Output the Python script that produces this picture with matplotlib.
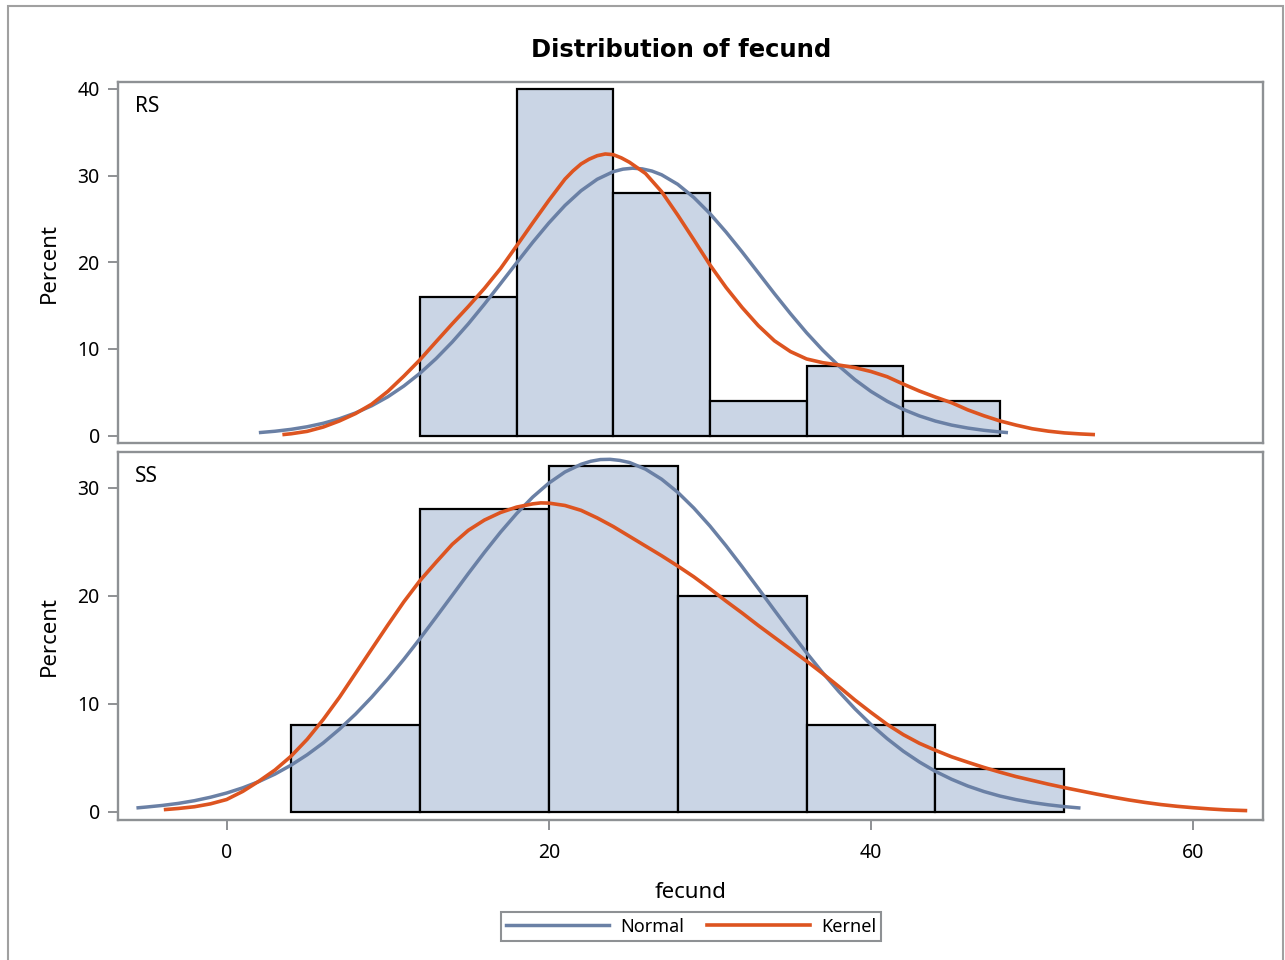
import numpy as np
import matplotlib
matplotlib.use("Agg")
import matplotlib.pyplot as plt
from matplotlib.patches import Rectangle
from matplotlib.lines import Line2D

plt.rcParams['font.family'] = ['Noto Sans', 'DejaVu Sans']

# ---------------- data ----------------
groups = ["RS", "SS"]
x_ticks = [0, 20, 40, 60]
rs_y_ticks = [0, 10, 20, 30, 40]
ss_y_ticks = [0, 10, 20, 30]

rs_bin_edges = [12, 18, 24, 30, 36, 42, 48]
rs_percent = [16, 40, 28, 4, 8, 4]
ss_bin_edges = [4, 12, 20, 28, 36, 44, 52]
ss_percent = [8, 28, 32, 20, 8, 4]

rs_normal_x = [2, 3, 4, 5, 6, 7, 8, 9, 10, 11, 12, 13, 14, 15, 16, 17, 18, 19, 20, 21,
               22, 23, 24, 24.6, 25.2, 25.8, 26.4, 27, 28, 29, 30, 31, 32, 33, 34, 35,
               36, 37, 38, 39, 40, 41, 42, 43, 44, 45, 46, 47, 48, 48.5]
rs_normal_y = [0.35, 0.51, 0.73, 1.03, 1.43, 1.95, 2.62, 3.45, 4.48, 5.73, 7.20, 8.89,
               10.80, 12.90, 15.17, 17.54, 19.94, 22.31, 24.54, 26.56, 28.26, 29.58,
               30.46, 30.75, 30.86, 30.78, 30.53, 30.10, 29.00, 27.48, 25.62, 23.49,
               21.19, 18.79, 16.39, 14.07, 11.87, 9.86, 8.05, 6.46, 5.10, 3.97, 3.03,
               2.28, 1.68, 1.22, 0.88, 0.62, 0.43, 0.35]

rs_kernel_x = [3.46, 4, 5, 6, 7, 8, 9, 10, 11, 12, 13, 14, 15, 16, 17, 18, 19, 20, 21,
               21.5, 22, 22.5, 23, 23.5, 24, 24.5, 25, 26, 27, 28, 29, 30, 31, 32, 33,
               34, 35, 36, 37, 38, 39, 40, 41, 42, 43, 44, 45, 46, 47, 48, 49, 50, 51,
               52, 53, 53.9]
rs_kernel_y = [0.12, 0.22, 0.50, 1.00, 1.70, 2.55, 3.63, 5.10, 6.87, 8.76, 10.84, 12.90,
               14.90, 16.99, 19.28, 21.90, 24.55, 27.15, 29.60, 30.55, 31.35, 31.90,
               32.30, 32.50, 32.42, 32.05, 31.55, 30.25, 28.15, 25.45, 22.60, 19.70,
               17.10, 14.78, 12.70, 10.95, 9.70, 8.85, 8.42, 8.15, 7.85, 7.40, 6.80,
               5.95, 5.15, 4.45, 3.80, 2.98, 2.30, 1.70, 1.22, 0.80, 0.52, 0.32, 0.20,
               0.12]

ss_normal_x = [-5.6, -5, -4, -3, -2, -1, 0, 1, 2, 3, 4, 5, 6, 7, 8, 9, 10, 11, 12, 13,
               14, 15, 16, 17, 18, 19, 20, 21, 22, 22.6, 23.2, 23.8, 24.4, 25, 26, 27,
               28, 29, 30, 31, 32, 33, 34, 35, 36, 37, 38, 39, 40, 41, 42, 43, 44, 45,
               46, 47, 48, 49, 50, 51, 52, 53]
ss_normal_y = [0.37, 0.45, 0.60, 0.79, 1.04, 1.36, 1.75, 2.23, 2.81, 3.50, 4.33, 5.29,
               6.39, 7.65, 9.05, 10.61, 12.31, 14.12, 16.03, 18.02, 20.03, 22.05, 24.01,
               25.88, 27.60, 29.13, 30.42, 31.45, 32.16, 32.44, 32.60, 32.62, 32.52,
               32.33, 31.71, 30.78, 29.57, 28.11, 26.45, 24.62, 22.68, 20.68, 18.66,
               16.66, 14.72, 12.87, 11.14, 9.54, 8.08, 6.78, 5.62, 4.62, 3.75, 3.02,
               2.40, 1.89, 1.47, 1.14, 0.87, 0.66, 0.49, 0.36]

ss_kernel_x = [-3.9, -3, -2, -1, 0, 1, 2, 3, 4, 5, 6, 7, 8, 9, 10, 11, 12, 13, 14, 15,
               16, 17, 18, 19, 19.5, 20, 21, 22, 23, 24, 25, 26, 27, 28, 29, 30, 31, 32,
               33, 34, 35, 36, 37, 38, 39, 40, 41, 42, 43, 44, 45, 46, 47, 48, 49, 50,
               51, 52, 53, 54, 55, 56, 57, 58, 59, 60, 61, 62, 63.35]
ss_kernel_y = [0.21, 0.32, 0.48, 0.75, 1.15, 1.90, 2.84, 3.88, 5.16, 6.72, 8.56, 10.60,
               12.83, 15.06, 17.28, 19.44, 21.40, 23.10, 24.75, 26.05, 27.00, 27.70,
               28.20, 28.50, 28.59, 28.57, 28.35, 27.90, 27.20, 26.40, 25.50, 24.60,
               23.70, 22.75, 21.75, 20.65, 19.50, 18.40, 17.25, 16.15, 15.05, 13.95,
               12.80, 11.60, 10.35, 9.20, 8.10, 7.15, 6.35, 5.70, 5.10, 4.60, 4.12,
               3.68, 3.27, 2.92, 2.57, 2.25, 1.95, 1.65, 1.37, 1.11, 0.88, 0.68, 0.52,
               0.39, 0.28, 0.19, 0.12]

# ---------------- styles ----------------
W, H = 1285, 960
bar_fill = '#CAD5E5'
normal_color = '#6A80A5'
kernel_color = '#DD5420'
spine_color = '#8E9194'

fig = plt.figure(figsize=(W / 100, H / 100), dpi=100)
fig.patch.set_facecolor('white')

left = 117.9 / W
width = (1262.7 - 117.9) / W
ax1 = fig.add_axes([left, 1 - 443.3 / H, width, (443.3 - 82.3) / H])
ax2 = fig.add_axes([left, 1 - 819.5 / H, width, (819.5 - 452.3) / H])

panels = [
    (ax1, groups[0], rs_bin_edges, rs_percent, rs_normal_x, rs_normal_y,
     rs_kernel_x, rs_kernel_y, rs_y_ticks, (-0.88, 40.77)),
    (ax2, groups[1], ss_bin_edges, ss_percent, ss_normal_x, ss_normal_y,
     ss_kernel_x, ss_kernel_y, ss_y_ticks, (-0.7, 33.27)),
]

for ax, name, edges, pct, nx, ny, kx, ky, yt, ylim in panels:
    edges = np.asarray(edges, dtype=float)
    ax.bar(edges[:-1], pct, width=np.diff(edges), align='edge', color=bar_fill,
           edgecolor='black', linewidth=1.6, zorder=2)
    ax.plot(nx, ny, color=normal_color, linewidth=2.5, solid_capstyle='butt',
            solid_joinstyle='round', zorder=3)
    ax.plot(kx, ky, color=kernel_color, linewidth=2.6, solid_capstyle='butt',
            solid_joinstyle='round', zorder=4)
    ax.set_xlim(-6.75, 64.31)
    ax.set_ylim(*ylim)
    ax.set_yticks(yt)
    ax.set_xticks(x_ticks)
    for s in ax.spines.values():
        s.set_color(spine_color)
        s.set_linewidth(1.7)
    ax.tick_params(axis='y', direction='out', length=7.5, width=1.4, color=spine_color,
                   labelsize=14, pad=5.5, labelcolor='black')
    ax.text(0.0149, 0.962, name, transform=ax.transAxes, ha='left', va='top',
            fontsize=15, color='black')
    ax.set_facecolor('white')

ax1.tick_params(axis='x', bottom=False, labelbottom=False)
ax2.tick_params(axis='x', direction='out', length=7.5, width=1.4, color=spine_color,
                labelsize=14, pad=9.5, labelcolor='black')

# y labels
for ax in (ax1, ax2):
    pos = ax.get_position()
    fig.text(49 / W, pos.y0 + pos.height / 2, 'Percent', rotation=90, ha='center',
             va='center', fontsize=16)

# x label and title
fig.text(691 / W, 1 - 898 / H, 'fecund', ha='center', va='baseline', fontsize=16)
fig.text(681.5 / W, 1 - 57 / H, 'Distribution of fecund', ha='center', va='baseline',
         fontsize=17.5, fontweight='bold', family=['DejaVu Sans'])

# legend
handles = [Line2D([], [], color=normal_color, linewidth=2.5),
           Line2D([], [], color=kernel_color, linewidth=2.6)]
leg = fig.legend(handles, ['Normal', 'Kernel'], loc='center',
                 bbox_to_anchor=(691 / W, 1 - 926.5 / H), ncol=2, fontsize=13,
                 frameon=True, fancybox=False, framealpha=1, edgecolor=spine_color,
                 handlelength=5.7, handletextpad=0.6, columnspacing=1.3,
                 borderpad=0.3)
leg.get_frame().set_linewidth(1.5)

# outer border
fig.add_artist(Rectangle((8 / W, -0.02), (1283 - 8) / W, 1.02 - 6 / H,
                         transform=fig.transFigure, fill=False,
                         edgecolor='#A0A0A0', linewidth=1.5))

fig.savefig('out.png', dpi=100)
